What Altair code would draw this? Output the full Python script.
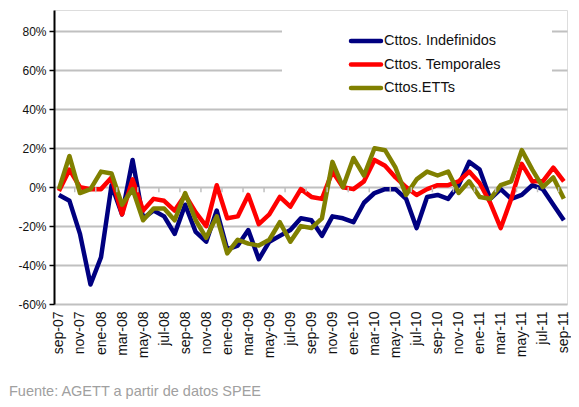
import json
import altair as alt
import pandas as pd

months = ["sep-07", "oct-07", "nov-07", "dic-07", "ene-08", "feb-08", "mar-08", "abr-08",
          "may-08", "jun-08", "jul-08", "ago-08", "sep-08", "oct-08", "nov-08", "dic-08",
          "ene-09", "feb-09", "mar-09", "abr-09", "may-09", "jun-09", "jul-09", "ago-09",
          "sep-09", "oct-09", "nov-09", "dic-09", "ene-10", "feb-10", "mar-10", "abr-10",
          "may-10", "jun-10", "jul-10", "ago-10", "sep-10", "oct-10", "nov-10", "dic-10",
          "ene-11", "feb-11", "mar-11", "abr-11", "may-11", "jun-11", "jul-11", "ago-11",
          "sep-11"]

indefinidos = [-4, -7, -24, -50, -36, 1, -14, 14, -16, -12,
               -15, -24, -9, -23, -28, -12, -32, -30, -22, -37,
               -28, -25, -22, -16, -17, -25, -15, -16, -18, -8,
               -3, -1, -1, -6, -21, -5, -4, -6, 1, 13,
               9, -6, -1, -6, -4, 1, -1, -9, -17]

temporales = [-2, 9, 0, -1, -1, 5, -14, 4, -12, -6,
              -7, -12, -4, -13, -20, 1, -16, -15, -4, -19,
              -14, -5, -10, -1, -5, -6, 8, 0, -1, 3,
              14, 11, 5, 0, -4, -1, 1, 1, 3, 8,
              2, -8, -21, -6, 12, 3, 3, 10, 3]

etts = [-1, 16, -3, -1, 8, 7, -9, -1, -17, -11,
        -11, -17, -3, -17, -26, -15, -34, -27, -29, -30,
        -27, -18, -28, -20, -21, -16, 13, 0, 15, 6,
        20, 19, 10, -4, 4, 8, 6, 8, -3, 3,
        -5, -6, 1, 3, 19, 9, 0, 5, -6]

series_names = ["Cttos. Indefinidos", "Cttos. Temporales", "Cttos.ETTs"]
series_colors = ["#000080", "#FF0000", "#808000"]
y_ticks = [-60, -40, -20, 0, 20, 40, 60, 80]
source_note = "Fuente: AGETT a partir de datos SPEE"

rows = []
for name, vals in zip(series_names, [indefinidos, temporales, etts]):
    for i, (m, v) in enumerate(zip(months, vals)):
        rows.append({"idx": i, "mes": m, "serie": name, "valor": v})
df = pd.DataFrame(rows)

tick_pos = [i + 0.5 for i in range(1, len(months) - 1, 2)]
ticks_df = pd.DataFrame({"pos": tick_pos, "y0": [0] * len(tick_pos), "y1": [-2.6] * len(tick_pos)})
legend_df = pd.DataFrame({"serie": series_names})

FONT = "Liberation Sans"
W, H = 513, 294

x_scale = alt.Scale(domain=[-0.47, 48.3], nice=False, zero=False)
y_scale = alt.Scale(domain=[-60, 91], nice=False, zero=False)
color_scale = alt.Scale(domain=series_names, range=series_colors)
label_expr = json.dumps(months) + "[datum.value]"

x_axis = alt.Axis(values=list(range(0, len(months), 2)), labelExpr=label_expr,
                  labelAngle=270, labelAlign="right", labelBaseline="middle",
                  labelPadding=7, labelFontSize=14, labelColor="#111",
                  labelFont=FONT, domain=False, ticks=False, grid=False,
                  title=None, labelOverlap=False, labelBound=False, labelFlush=False)
y_axis = alt.Axis(values=y_ticks, labelExpr="datum.value + '%'", labelFont=FONT,
                  labelFontSize=12, labelColor="#111", labelPadding=3,
                  grid=True, gridColor="#C0C0C0", gridWidth=2,
                  domainColor="black", domainWidth=2, tickColor="black",
                  tickSize=5, tickWidth=1.5, title=None)

lines = alt.Chart(df).mark_line(strokeWidth=4.5, strokeJoin="round").encode(
    x=alt.X("idx:Q", scale=x_scale, axis=x_axis),
    y=alt.Y("valor:Q", scale=y_scale, axis=y_axis),
    color=alt.Color("serie:N", scale=color_scale, legend=None),
    detail="serie:N",
)

zero_ticks = alt.Chart(ticks_df).mark_rule(color="#C0C0C0", strokeWidth=1.5).encode(
    x=alt.X("pos:Q", scale=x_scale, axis=x_axis),
    y=alt.Y("y0:Q", scale=y_scale, axis=None),
    y2="y1:Q",
)

legend_box = alt.Chart(legend_df).mark_rect(color="white").encode(
    x=alt.value(228), x2=alt.value(498), y=alt.value(12), y2=alt.value(90)
)

leg_y = alt.Y("serie:N",
              scale=alt.Scale(type="point", domain=series_names, range=[31, 78], padding=0),
              axis=None)

legend_sym = alt.Chart(legend_df).mark_rule(strokeWidth=4.5, strokeCap="round").encode(
    x=alt.value(297), x2=alt.value(327), y=leg_y,
    color=alt.Color("serie:N", scale=color_scale, legend=None),
)

legend_txt = alt.Chart(legend_df).mark_text(align="left", baseline="middle", font=FONT,
                                            fontSize=14.5, color="#111").encode(
    x=alt.value(330), y=leg_y, text="serie:N"
)

note = alt.Chart(legend_df).transform_filter(
    alt.datum.serie == series_names[0]
).transform_calculate(nota=json.dumps(source_note)).mark_text(
    align="left", baseline="middle", font=FONT, fontSize=14.5, color="#A0A0A0"
).encode(x=alt.value(-45), y=alt.value(382), text="nota:N")

chart = alt.layer(lines, zero_ticks, legend_box, legend_sym, legend_txt, note).resolve_scale(
    y="independent"
).properties(
    width=W, height=H,
    padding={"left": 46, "top": 2, "right": 4, "bottom": 95},
    autosize=alt.AutoSizeParams(type="none"),
).configure_view(stroke=None).configure(background="white")

chart.save("out.html", embed_options={"renderer": "svg", "actions": False})
